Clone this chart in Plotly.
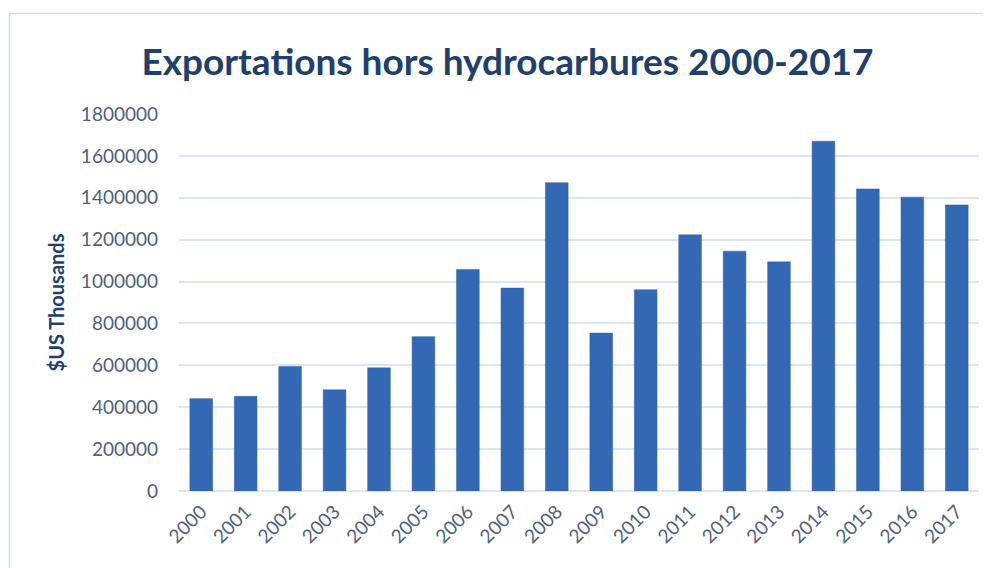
import plotly.graph_objects as go

years = [str(y) for y in range(2000, 2018)]
exports = [441000, 452000, 594000, 483000, 588000, 737000, 1058000, 969000, 1472000,
           754000, 961000, 1223000, 1145000, 1094000, 1670000, 1442000, 1403000, 1366000]
y_ticks = [0, 200000, 400000, 600000, 800000, 1000000, 1200000, 1400000, 1600000, 1800000]

title_text = "Exportations hors hydrocarbures 2000-2017"
y_title = "$US Thousands"

# page body has an 8px margin; size the figure to fill the rest of the window
OFF = 8
W, H = 990 - OFF, 568 - OFF
L, R, T, B = 179 - OFF, 11, 114 - OFF, 77
pw, ph = W - L - R, H - T - B

fig = go.Figure(go.Bar(
    x=years, y=exports,
    marker=dict(color="#3369b4", line=dict(color="#2d5fa3", width=0.5)),
))

fig.update_layout(
    width=W, height=H,
    margin=dict(l=L, r=R, t=T, b=B),
    paper_bgcolor="white", plot_bgcolor="white",
    bargap=0.49,
    showlegend=False,
    font=dict(family="Lato", color="#4d5f7c"),
    title=dict(text="<b>" + title_text + "</b>", x=(507.5 - OFF) / W, xanchor="center",
               y=1 - (62 - OFF) / H, yanchor="middle", xref="container", yref="container",
               font=dict(family="Lato", size=37, color="#203f6e")),
    xaxis=dict(tickangle=-45, tickfont=dict(size=19, color="#4d5f7c"),
               showgrid=False, showline=False, ticks="", ticklabelstandoff=5),
    yaxis=dict(range=[0, 1800000], tickvals=y_ticks, ticktext=[str(v) for v in y_ticks],
               tickfont=dict(size=19, color="#4d5f7c"),
               gridcolor="#dbe5f4", gridwidth=1.5, zeroline=True, zerolinecolor="#dbe5f4",
               zerolinewidth=1.5, showline=False, ticks="", ticklabelstandoff=20,
               title=dict(text="<b>" + y_title + "</b>", standoff=10,
                          font=dict(family="Lato", size=20, color="#203f6e"))),
    shapes=[dict(type="rect", xref="paper", yref="paper",
                 x0=(9.5 - 179) / pw, x1=1.2, y0=-0.5, y1=(491.5 - 14) / ph,
                 line=dict(color="#cddcf0", width=1.5), layer="below")],
)

fig.write_html("out.html")
